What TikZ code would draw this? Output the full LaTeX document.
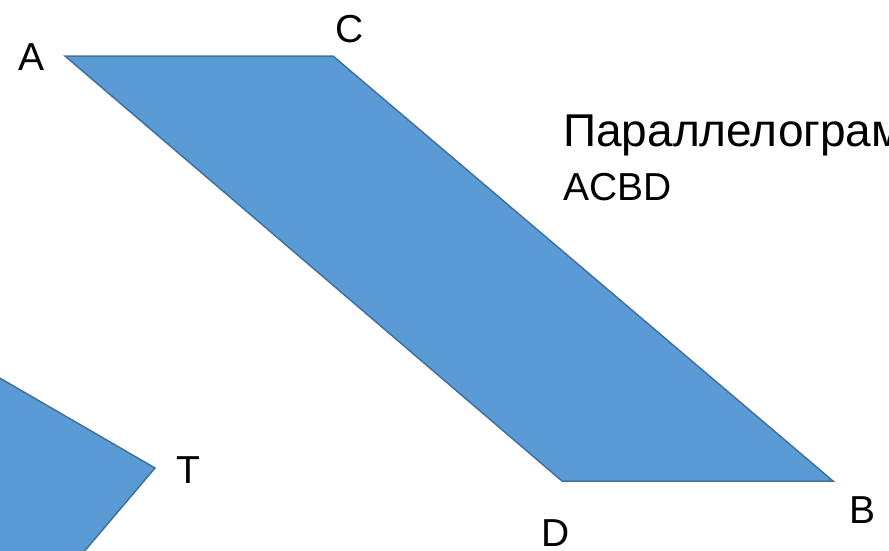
\documentclass[tikz,border=0pt]{standalone}
\usepackage{fontspec}
\setmainfont{Liberation Sans}
\begin{document}
\begin{tikzpicture}[x=1pt,y=-1pt,
  shapefill/.style={fill={rgb,255:red,91;green,155;blue,213},draw={rgb,255:red,65;green,113;blue,156},line width=1.5pt,line join=miter},
  lbl/.style={anchor=base,inner sep=0pt,font=\fontsize{39}{46}\selectfont}]
\useasboundingbox (0,0) rectangle (889,550);
\clip (0,0) rectangle (889,550);
\coordinate (A) at (65,56);
\coordinate (C) at (333,56);
\coordinate (B) at (833,481);
\coordinate (D) at (562,481);
\coordinate (P) at (-40,355);
\coordinate (T) at (155,468);
\coordinate (Q) at (60,580);
\coordinate (R) at (-40,580);
\draw[shapefill] (A) -- (C) -- (B) -- (D) -- cycle;
\draw[shapefill] (P) -- (T) -- (Q) -- (R) -- cycle;
\node[lbl] (lA) at (32,70) {A};
\node[lbl] (lC) at (350,42) {C};
\node[lbl] (lD) at (556,546) {D};
\node[lbl] (lB) at (862,523) {B};
\node[lbl] (lT) at (188,483) {T};
\node[anchor=base west,inner sep=0pt,font=\fontsize{46}{54}\selectfont] (txt1) at (563,146) {Параллелограмм};
\node[anchor=base west,inner sep=0pt,font=\fontsize{39}{46}\selectfont] (txt2) at (563,200) {ACBD};
\end{tikzpicture}
\end{document}
